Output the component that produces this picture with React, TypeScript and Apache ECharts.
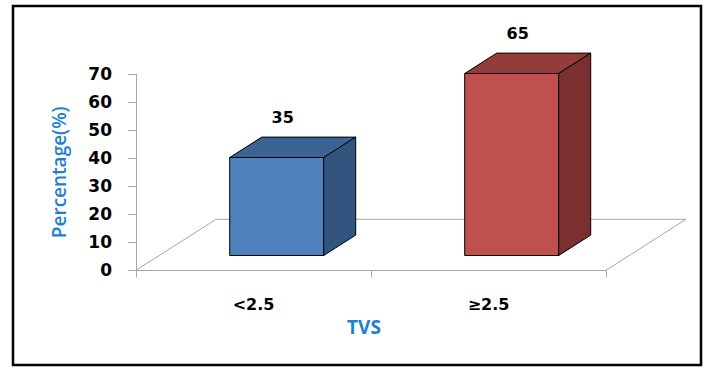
import React, { useEffect, useRef } from "react";
import * as echarts from "echarts";

const categories = ["<2.5", "≥2.5"];
const values = [35, 65];
const yTicks = { min: 0, max: 70, interval: 10 };

const FRONT_COLORS = ["#4f81bd", "#c0504d"];
const TOP_COLORS = ["#3b6394", "#943c39"];
const SIDE_COLORS = ["#32557f", "#7a302e"];
const FLOOR_DX = 80;
const FLOOR_DY = 51;
const F0 = 0.29;
const F1 = 0.69;
const BAR_W = 0.4;

export default function App() {
  const ref = useRef<HTMLDivElement>(null);
  useEffect(() => {
    document.body.style.margin = "0";
    const chart = echarts.init(ref.current!, null, { renderer: "svg" });
    const gray = "#a6a6a6";
    chart.setOption({
      animation: false,
      backgroundColor: "#ffffff",
      grid: { left: 136, right: 100, top: 74.3, bottom: 97.7 },
      graphic: [
        {
          type: "rect",
          shape: { x: 13, y: 6, width: 688, height: 359 },
          style: { fill: "none", stroke: "#000", lineWidth: 2.5 },
          z: 100,
        },
      ],
      xAxis: {
        type: "category",
        data: categories,
        axisLine: { show: true, lineStyle: { color: gray, width: 1 } },
        axisTick: { show: true, length: 7, lineStyle: { color: gray } },
        axisLabel: {
          margin: 26,
          color: "#000",
          fontFamily: "DejaVu Sans",
          fontWeight: "bold",
          fontSize: 16,
        },
        name: "TVS",
        nameLocation: "middle",
        nameGap: 40,
        nameTextStyle: {
          color: "#1f7fd0",
          fontFamily: "Open Sans",
          fontWeight: "bold",
          fontSize: 19,
          padding: [0, 14, 0, 0],
        },
      },
      yAxis: {
        type: "value",
        min: yTicks.min,
        max: yTicks.max,
        interval: yTicks.interval,
        splitLine: { show: false },
        axisLine: { show: true, lineStyle: { color: gray, width: 1 } },
        axisTick: { show: true, length: 8, lineStyle: { color: gray } },
        axisLabel: {
          margin: 24,
          color: "#000",
          fontFamily: "DejaVu Sans",
          fontWeight: "bold",
          fontSize: 17,
        },
        name: "Percentage(%)",
        nameLocation: "middle",
        nameGap: 68,
        nameTextStyle: {
          color: "#1f7fd0",
          fontFamily: "Open Sans",
          fontWeight: 600,
          fontSize: 19,
        },
      },
      series: [
        {
          type: "custom",
          z: 1,
          clip: false,
          silent: true,
          data: [[0, 0]],
          renderItem: (params: any) => {
            const cs = params.coordSys;
            const x0 = cs.x;
            const y0 = cs.y + cs.height;
            const x1 = cs.x + cs.width;
            return {
              type: "polyline",
              shape: {
                points: [
                  [x0, y0],
                  [x0 + FLOOR_DX, y0 - FLOOR_DY],
                  [x1 + FLOOR_DX, y0 - FLOOR_DY],
                  [x1, y0],
                ],
              },
              style: { stroke: "#a6a6a6", lineWidth: 1, fill: "none" },
            };
          },
        },
        {
          type: "custom",
          z: 2,
          clip: false,
          data: values.map((v, i) => [i, v]),
          renderItem: (params: any, api: any) => {
            const idx = api.value(0);
            const v = api.value(1);
            const base = api.coord([idx, 0]);
            const top = api.coord([idx, v]);
            const band = api.size([1, 0])[0];
            const w = band * BAR_W;
            const cx = base[0] + F0 * FLOOR_DX;
            const L = cx - w / 2;
            const R = cx + w / 2;
            const B = base[1] - F0 * FLOOR_DY;
            const T = top[1] - F0 * FLOOR_DY;
            const ddx = (F1 - F0) * FLOOR_DX;
            const ddy = (F1 - F0) * FLOOR_DY;
            const stroke = { stroke: "#000", lineWidth: 1 };
            return {
              type: "group",
              children: [
                {
                  type: "polygon",
                  shape: { points: [[L, B], [R, B], [R, T], [L, T]] },
                  style: { fill: FRONT_COLORS[idx], ...stroke },
                },
                {
                  type: "polygon",
                  shape: { points: [[L, T], [R, T], [R + ddx, T - ddy], [L + ddx, T - ddy]] },
                  style: { fill: TOP_COLORS[idx], ...stroke },
                },
                {
                  type: "polygon",
                  shape: { points: [[R, T], [R + ddx, T - ddy], [R + ddx, B - ddy], [R, B]] },
                  style: { fill: SIDE_COLORS[idx], ...stroke },
                },
                {
                  type: "text",
                  style: {
                    text: String(v),
                    x: cx + 6,
                    y: T - ddy - 20,
                    align: "center",
                    verticalAlign: "middle",
                    fill: "#000",
                    font: "bold 16px 'DejaVu Sans'",
                  },
                },
              ],
            };
          },
        },
      ],
    });
    return () => chart.dispose();
  }, []);
  return <div ref={ref} style={{ width: 706, height: 368 }} />;
}
